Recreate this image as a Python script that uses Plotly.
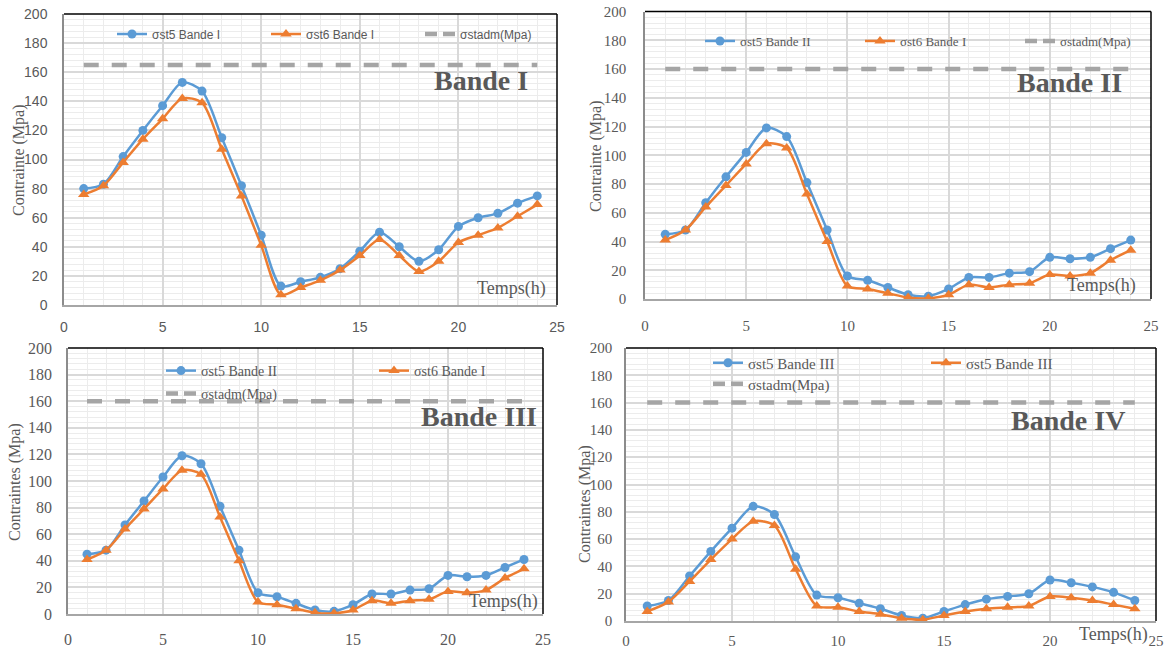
import plotly.graph_objects as go

# ---------------- data ----------------
hours = [1, 2, 3, 4, 5, 6, 7, 8, 9, 10, 11, 12, 13, 14, 15, 16, 17, 18, 19, 20, 21, 22, 23, 24]

st5_bande1 = [80, 83, 102, 120, 137, 153, 147, 115, 82, 48, 13, 16, 19, 25, 37, 50, 40, 30, 38, 54, 60, 63, 70, 75]
st6_bande1 = [76, 82, 98, 114, 128, 142, 139, 107, 75, 41, 7, 12, 17, 24, 34, 45, 34, 23, 30, 43, 48, 53, 61, 69]
adm_bande1 = [165, 165, 165, 165, 165, 165, 165, 165, 165, 165, 165, 165,
              165, 165, 165, 165, 165, 165, 165, 165, 165, 165, 165, 165]

st5_bande2 = [45, 48, 67, 85, 102, 119, 113, 81, 48, 16, 13, 8, 3, 2, 7, 15, 15, 18, 19, 29, 28, 29, 35, 41]
st6_bande2 = [41, 48, 64, 79, 94, 108, 105, 73, 40, 9, 7, 4, 1, 0.5, 3, 10, 8, 10, 11, 17, 16, 18, 27, 34]
adm_bande2 = [160, 160, 160, 160, 160, 160, 160, 160, 160, 160, 160, 160,
              160, 160, 160, 160, 160, 160, 160, 160, 160, 160, 160, 160]

st5_bande3 = [45, 48, 67, 85, 103, 119, 113, 81, 48, 16, 13, 8, 3, 2, 7, 15, 15, 18, 19, 29, 28, 29, 35, 41]
st6_bande3 = [41, 48, 64, 79, 94, 108, 105, 73, 40, 9, 7, 4, 1, 0.5, 3, 10, 8, 10, 11, 17, 16, 18, 27, 34]
adm_bande3 = [160, 160, 160, 160, 160, 160, 160, 160, 160, 160, 160, 160,
              160, 160, 160, 160, 160, 160, 160, 160, 160, 160, 160, 160]

st5_bande4 = [11, 15, 33, 51, 68, 84, 78, 47, 19, 17, 13, 9, 4, 2, 7, 12, 16, 18, 20, 30, 28, 25, 21, 15]
st6_bande4 = [7, 14, 29, 45, 60, 73, 70, 38, 11, 10, 7, 5, 2, 1, 4, 7, 9, 10, 11, 18, 17, 15, 12, 9]
adm_bande4 = [160, 160, 160, 160, 160, 160, 160, 160, 160, 160, 160, 160,
              160, 160, 160, 160, 160, 160, 160, 160, 160, 160, 160, 160]

names_b1 = ["σst5 Bande I", "σst6 Bande I", "σstadm(Mpa)"]
names_b2 = ["σst5 Bande II", "σst6 Bande I", "σstadm(Mpa)"]
names_b3 = ["σst5 Bande II", "σst6 Bande I", "σstadm(Mpa)"]
names_b4 = ["σst5 Bande III", "σst5 Bande III", "σstadm(Mpa)"]

titles = ["Bande I", "Bande II", "Bande III", "Bande IV"]
ytitles = ["Contrainte (Mpa)", "Contrainte (Mpa)", "Contraintes (Mpa)", "Contraintes (Mpa)"]
xlabel = "Temps(h)"
x_ticks = [0, 5, 10, 15, 20, 25]
y_ticks = [0, 20, 40, 60, 80, 100, 120, 140, 160, 180, 200]

# ---------------- styling / layout ----------------
W, H = 1173, 650
BLUE = "#5B9BD5"
ORANGE = "#ED7D31"
GRAY = "#A5A5A5"
TXT = "#595959"
SERIF = "Liberation Serif, Times New Roman, serif"
SANS = "Liberation Sans, Arial, sans-serif"


def px(x):
    return x / W


def py(y):
    return 1 - y / H


panels = [
    dict(data=(st5_bande1, st6_bande1, adm_bande1), names=names_b1,
         xd=(64, 557), yd=(14, 305), tickfont=dict(family=SANS, size=14, color=TXT),
         ystand=12, xstand=8,
         legends=[dict(x=112, y=34, items=[0, 1, 2])], lw=109,
         legfont=dict(family=SANS, size=12, color=TXT),
         title=(481, 80), temps=(511, 288), ytitle=(19, 160)),
    dict(data=(st5_bande2, st6_bande2, adm_bande2), names=names_b2,
         xd=(645, 1151), yd=(11.5, 299), tickfont=dict(family=SERIF, size=15, color=TXT),
         ystand=14, xstand=12,
         legends=[dict(x=700, y=41, items=[0, 1, 2])], lw=115,
         legfont=dict(family=SERIF, size=13, color=TXT),
         title=(1069, 82), temps=(1101, 286), ytitle=(596, 156)),
    dict(data=(st5_bande3, st6_bande3, adm_bande3), names=names_b3,
         xd=(68, 543), yd=(348, 614), tickfont=dict(family=SERIF, size=16, color=TXT),
         ystand=11, xstand=10,
         legends=[dict(x=161, y=371, items=[0, 1]), dict(x=161, y=394, items=[2])], lw=168,
         legfont=dict(family=SERIF, size=14, color=TXT),
         title=(479, 416), temps=(503, 601), ytitle=(15, 482)),
    dict(data=(st5_bande4, st6_bande4, adm_bande4), names=names_b4,
         xd=(626, 1156), yd=(348, 621), tickfont=dict(family=SERIF, size=15, color=TXT),
         ystand=9, xstand=5,
         legends=[dict(x=708, y=363, items=[0, 1]), dict(x=708, y=384, items=[2])], lw=173,
         legfont=dict(family=SERIF, size=15, color=TXT),
         title=(1068, 420), temps=(1113, 634), ytitle=(585, 504)),
]

fig = go.Figure()
layout = dict(width=W, height=H,
              margin=dict(l=0, r=0, t=0, b=0, pad=0, autoexpand=False),
              paper_bgcolor="white", plot_bgcolor="white", showlegend=True)
annotations = []
shapes = []
legend_counter = 0

for i, p in enumerate(panels):
    sfx = "" if i == 0 else str(i + 1)
    xa, ya = "x" + sfx, "y" + sfx
    item_legend = {}
    for lg in p["legends"]:
        legend_counter += 1
        lname = "legend" if legend_counter == 1 else f"legend{legend_counter}"
        layout[lname] = dict(orientation="h", x=px(lg["x"]), xanchor="left",
                             y=py(lg["y"]), yanchor="middle", font=p["legfont"],
                             bgcolor="rgba(0,0,0,0)", borderwidth=0, itemwidth=30,
                             traceorder="normal")
        for it in lg["items"]:
            item_legend[it] = lname

    s5, s6, adm = p["data"]
    fig.add_trace(go.Scatter(
        x=hours, y=s5, name=p["names"][0], mode="lines+markers", xaxis=xa, yaxis=ya,
        line=dict(color=BLUE, width=2.5, shape="spline", smoothing=0.8),
        marker=dict(symbol="circle", size=9, color=BLUE),
        legend=item_legend[0], legendwidth=p["lw"], cliponaxis=False))
    fig.add_trace(go.Scatter(
        x=hours, y=s6, name=p["names"][1], mode="lines+markers", xaxis=xa, yaxis=ya,
        line=dict(color=ORANGE, width=2.5, shape="spline", smoothing=0.8),
        marker=dict(symbol="triangle-up", size=10, color=ORANGE),
        legend=item_legend[1], legendwidth=p["lw"], cliponaxis=False))
    fig.add_trace(go.Scatter(
        x=hours, y=adm, name=p["names"][2], mode="lines", xaxis=xa, yaxis=ya,
        line=dict(color=GRAY, width=4.5, dash="15px,13px"),
        showlegend=False, legendgroup=f"adm{i}", cliponaxis=False))
    # legend entry for the admissible-stress line (shorter dash so two dashes show)
    fig.add_trace(go.Scatter(
        x=[None], y=[None], name=p["names"][2], mode="lines", xaxis=xa, yaxis=ya,
        line=dict(color=GRAY, width=4.5, dash="12px,6px"),
        legend=item_legend[2], legendgroup=f"adm{i}", showlegend=True))

    layout["xaxis" + sfx] = dict(
        domain=[px(p["xd"][0]), px(p["xd"][1])], range=[0, 25], tickvals=x_ticks,
        showgrid=True, gridcolor="#D9D9D9", gridwidth=1.5,
        minor=dict(dtick=1, tick0=0, showgrid=True, gridcolor="#ECECEC", gridwidth=1),
        showline=True, linecolor="#A6A6A6", linewidth=1.5, zeroline=False,
        ticks="", tickfont=p["tickfont"], ticklabelstandoff=p["xstand"],
        anchor=ya, fixedrange=True, automargin=False)
    layout["yaxis" + sfx] = dict(
        domain=[py(p["yd"][1]), py(p["yd"][0])], range=[0, 200], tickvals=y_ticks,
        showgrid=True, gridcolor="#D9D9D9", gridwidth=1.5,
        minor=dict(dtick=4, tick0=0, showgrid=True, gridcolor="#ECECEC", gridwidth=1),
        showline=True, linecolor="#8C8C8C", linewidth=1.5, zeroline=False,
        ticks="", tickfont=p["tickfont"], ticklabelstandoff=p["ystand"],
        anchor=xa, fixedrange=True, automargin=False)

    shapes.append(dict(type="line", xref=f"{xa} domain", yref=f"{ya} domain",
                       x0=0, x1=1, y0=1, y1=1, line=dict(color="#000000", width=1.5)))
    shapes.append(dict(type="line", xref=f"{xa} domain", yref=f"{ya} domain",
                       x0=1, x1=1, y0=0, y1=1, line=dict(color="#000000", width=1.5)))

    annotations.append(dict(text=f"<b>{titles[i]}</b>", x=px(p["title"][0]), y=py(p["title"][1]),
                            xref="paper", yref="paper", xanchor="center", yanchor="middle",
                            showarrow=False, font=dict(family=SERIF, size=28, color=TXT)))
    annotations.append(dict(text=xlabel, x=px(p["temps"][0]), y=py(p["temps"][1]),
                            xref="paper", yref="paper", xanchor="center", yanchor="middle",
                            showarrow=False, font=dict(family=SERIF, size=18, color=TXT)))
    annotations.append(dict(text=ytitles[i], x=px(p["ytitle"][0]), y=py(p["ytitle"][1]),
                            xref="paper", yref="paper", xanchor="center", yanchor="middle",
                            textangle=-90, showarrow=False,
                            font=dict(family=SERIF, size=16, color=TXT)))

layout["annotations"] = annotations
layout["shapes"] = shapes
fig.update_layout(**layout)

# remove the browser's default page margin so the figure sits at the window's top-left
page_fix = ("document.body.style.margin='0';document.body.style.padding='0';"
            "document.documentElement.style.margin='0';document.body.style.overflow='hidden';")
fig.write_html("out.html", post_script=page_fix, config={"displayModeBar": False})
